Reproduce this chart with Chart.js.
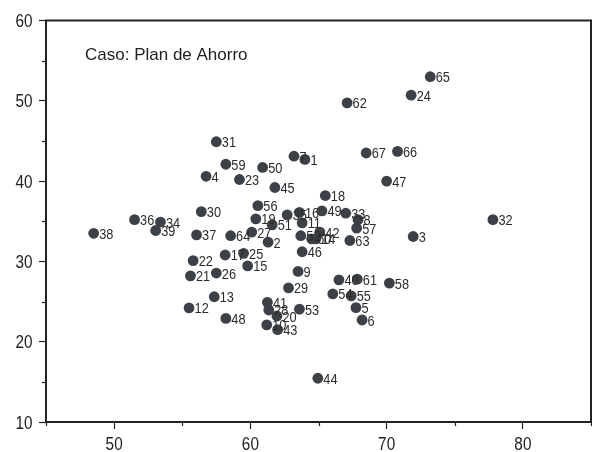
<!DOCTYPE html>
<html>
<head>
<meta charset="utf-8">
<script src="https://cdn.jsdelivr.net/npm/chart.js@4"></script>
<style>
  html, body { margin: 0; padding: 0; background: #fff; }
  #wrap { width: 592px; height: 452px; }
</style>
</head>
<body>
<div id="wrap"><canvas id="myChart" width="592" height="452"></canvas></div>
<script>
// point labels (case numbers)
const ids = [1,2,3,4,5,6,7,8,9,10,11,12,13,14,15,16,17,18,19,20,21,22,23,24,25,26,27,28,29,30,31,32,33,34,
  35,36,37,38,39,40,41,42,43,44,45,46,47,48,49,50,51,52,53,54,55,56,57,58,59,60,61,62,63,64,65,66,67]
// x values
const xs = [64.0,61.3,71.95,56.75,67.75,68.2,63.2,67.9,63.5,61.2,63.8,55.5,57.35,64.8,59.8,63.6,58.15,65.5,60.4,61.95,
  55.6,55.8,59.2,71.8,59.5,57.5,60.1,61.35,62.8,56.4,57.5,77.8,67.0,53.4,62.7,51.5,56.05,48.5,53.05,66.5,
  61.25,65.1,62.0,64.95,61.8,63.8,70.0,58.2,65.25,60.9,61.6,63.7,63.6,66.05,67.4,60.55,67.8,70.2,58.2,64.5,
  67.85,67.1,67.3,58.55,73.2,70.8,68.5]
// y values
const ys = [42.7,32.4,33.1,40.6,24.25,22.7,43.1,35.2,28.75,22.1,34.8,24.2,25.6,32.8,29.45,36.1,30.8,38.2,35.3,23.2,
  28.2,30.1,40.2,50.7,31.0,28.55,33.65,23.95,26.7,36.2,44.9,35.2,36.0,34.9,35.8,35.2,33.3,33.5,33.85,27.7,
  24.9,33.65,21.5,15.45,39.2,31.2,40.0,22.9,36.3,41.7,34.55,33.2,24.05,25.95,25.7,36.95,34.15,27.3,42.1,32.8,
  27.8,49.75,32.6,33.2,53.0,43.7,43.5]
const caseTitle = 'Caso: Plan de Ahorro'

const fontFam = "'Liberation Sans', Arial, sans-serif"
const axisColor = '#222'
const dotColor = '#3b4146'
const squeeze = 0.85   // the reference digits are a bit condensed

const points = xs.map((x, i) => ({ x: x, y: ys[i] }))

const isMajor = v => Math.abs(v % 10) < 1e-6

// draws text squeezed horizontally, anchored at (x, y)
function narrowText(ctx, txt, x, y, align) {
  ctx.save()
  ctx.translate(x, y)
  ctx.scale(squeeze, 1)
  ctx.textAlign = align
  ctx.fillText(txt, 0, 0)
  ctx.restore()
}

// labels beside dots, title, tick labels, frame and minor ticks
const extras = {
  id: 'extras',
  afterDatasetsDraw(chart) {
    const ctx = chart.ctx
    const meta = chart.getDatasetMeta(0)
    ctx.save()
    ctx.font = '15px ' + fontFam
    ctx.fillStyle = '#2b2b2b'
    ctx.textBaseline = 'alphabetic'
    meta.data.forEach((el, i) => {
      narrowText(ctx, String(ids[i]), el.x + 5.5, el.y + 5.5, 'left')
    })
    const a = chart.chartArea
    ctx.font = '17px ' + fontFam
    ctx.fillStyle = '#222'
    ctx.textAlign = 'left'
    ctx.fillText(caseTitle, a.left + 39, a.top + 39)
    ctx.restore()
  },
  afterDraw(chart) {
    const ctx = chart.ctx
    const a = chart.chartArea
    const xs2 = chart.scales.x, ys2 = chart.scales.y
    ctx.save()
    ctx.strokeStyle = axisColor
    ctx.lineWidth = 2
    ctx.strokeRect(a.left, a.top, a.right - a.left, a.bottom - a.top)
    ctx.lineWidth = 1.2
    xs2.ticks.forEach(t => {
      if (isMajor(t.value)) return
      const p = Math.round(xs2.getPixelForValue(t.value)) + 0.5
      ctx.beginPath(); ctx.moveTo(p, a.bottom); ctx.lineTo(p, a.bottom + 4); ctx.stroke()
    })
    ys2.ticks.forEach(t => {
      if (isMajor(t.value)) return
      const p = Math.round(ys2.getPixelForValue(t.value)) + 0.5
      ctx.beginPath(); ctx.moveTo(a.left, p); ctx.lineTo(a.left - 4, p); ctx.stroke()
    })
    // tick labels
    ctx.font = '18px ' + fontFam
    ctx.fillStyle = '#222'
    ctx.textBaseline = 'alphabetic'
    xs2.ticks.forEach(t => {
      if (!isMajor(t.value)) return
      narrowText(ctx, String(t.value), xs2.getPixelForValue(t.value), a.bottom + 28, 'center')
    })
    ys2.ticks.forEach(t => {
      if (!isMajor(t.value)) return
      narrowText(ctx, String(t.value), a.left - 13.5, ys2.getPixelForValue(t.value) + 6.5, 'right')
    })
    ctx.restore()
  }
}

const tickColorFn = c => (c.tick && isMajor(c.tick.value)) ? axisColor : 'rgba(0,0,0,0)'

const config = {
  type: 'scatter',
  data: {
    datasets: [{
      label: caseTitle,
      data: points,
      backgroundColor: dotColor,
      borderColor: dotColor,
      borderWidth: 0,
      pointRadius: 5.4,
      pointHoverRadius: 5.4
    }]
  },
  options: {
    responsive: false,
    animation: false,
    events: [],
    layout: { autoPadding: false, padding: { top: 20.5, right: 1, left: 0, bottom: 0 } },
    plugins: { legend: { display: false }, tooltip: { enabled: false } },
    scales: {
      x: {
        type: 'linear',
        min: 45, max: 85,
        afterFit: s => { s.height = 30; s.paddingRight = 0; s.paddingLeft = 0 },
        border: { display: false },
        grid: { drawOnChartArea: false, tickLength: 7, tickWidth: 1.2, tickColor: tickColorFn },
        ticks: { stepSize: 5, autoSkip: false, maxRotation: 0, display: false }
      },
      y: {
        type: 'linear',
        min: 10, max: 60,
        afterFit: s => { s.width = 46; s.paddingTop = 0; s.paddingBottom = 0 },
        border: { display: false },
        grid: { drawOnChartArea: false, tickLength: 7, tickWidth: 1.2, tickColor: tickColorFn },
        ticks: { stepSize: 5, autoSkip: false, display: false }
      }
    }
  },
  plugins: [extras]
}

const myChart = new Chart(document.getElementById('myChart'), config)
</script>
</body>
</html>
